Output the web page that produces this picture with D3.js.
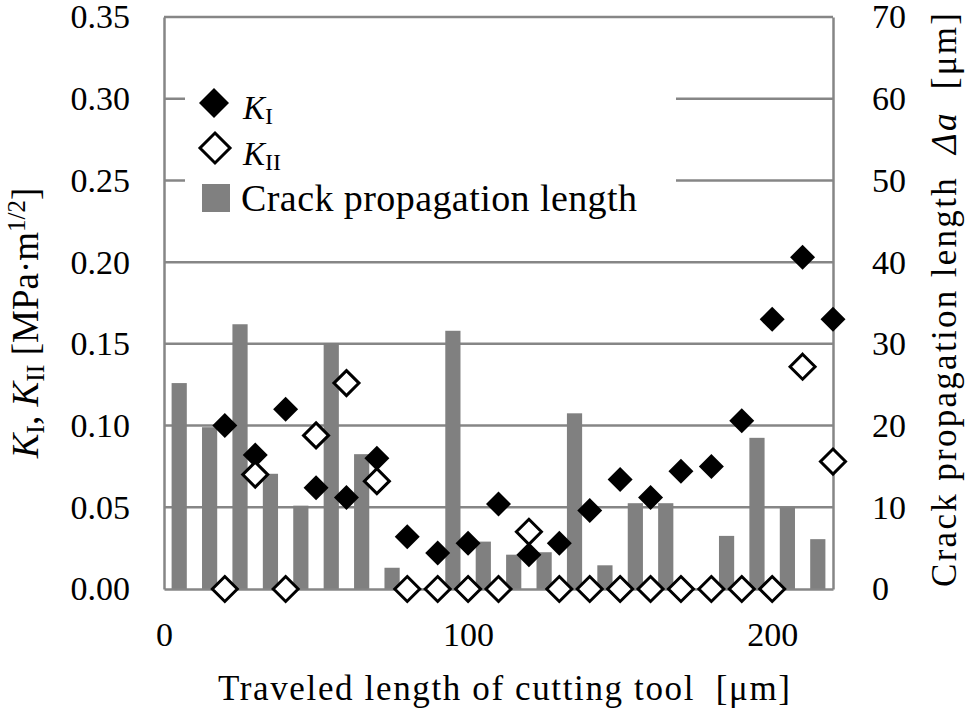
<!DOCTYPE html>
<html>
<head>
<meta charset="utf-8">
<script src="https://cdn.jsdelivr.net/npm/d3@7"></script>
<style>
  body { margin: 0; background: #fff; }
  svg text { font-family: "Liberation Serif", "Times New Roman", serif; fill: #000; white-space: pre; }
</style>
</head>
<body>
<div id="holder"></div>
<script>
// bar categories (centre of each 10 um interval) and crack propagation length [um]
var barX = [5, 15, 25, 35, 45, 55, 65, 75, 85, 95, 105, 115, 125, 135, 145, 155, 165, 175, 185, 195, 205, 215];
var crackLen = [25.2, 19.8, 32.4, 14.1, 10.2, 30.1, 16.5, 2.6, 0, 31.6, 5.8, 4.2, 4.5, 21.5, 2.9, 10.5, 10.5, 0, 6.5, 18.5, 10.0, 6.1];

// stress intensity factors
var kX = [20, 30, 40, 50, 60, 70, 80, 90, 100, 110, 120, 130, 140, 150, 160, 170, 180, 190, 200, 210, 220];
var kI = [0.100, 0.082, 0.110, 0.062, 0.056, 0.080, 0.032, 0.022, 0.028, 0.052, 0.021, 0.028, 0.048, 0.067, 0.056, 0.072, 0.075, 0.103, 0.165, 0.203, 0.165];
var kII = [0, 0.070, 0, 0.094, 0.126, 0.066, 0, 0, 0, 0, 0.035, 0, 0, 0, 0, 0, 0, 0, 0, 0.136, 0.078];

// tick labels
var xTicks = [0, 100, 200];
var leftTicks = [0, 0.05, 0.10, 0.15, 0.20, 0.25, 0.30, 0.35];
var rightTicks = [0, 10, 20, 30, 40, 50, 60, 70];

var W = 969, H = 713;
var margin = {top: 17, right: 136, bottom: 124, left: 164};
var grey = "#868686";
var serif = "Liberation Serif";

var svg = d3.select("#holder")
  .append("svg")
  .attr("width", W)
  .attr("height", H);

var x = d3.scaleLinear().domain([0, 220]).range([margin.left, W - margin.right]);
var yL = d3.scaleLinear().domain([0, 0.35]).range([H - margin.bottom, margin.top]);
var yR = d3.scaleLinear().domain([0, 70]).range([H - margin.bottom, margin.top]);

// gridlines
svg.append("g")
  .selectAll("line")
  .data(leftTicks.slice(1))
  .enter()
  .append("line")
  .attr("x1", x(0)).attr("x2", x(220))
  .attr("y1", d => yL(d)).attr("y2", d => yL(d))
  .attr("stroke", grey)
  .attr("stroke-width", 2.5);

// bars
var halfW = 2.5;
svg.append("g")
  .selectAll("rect")
  .data(barX.map((d, i) => ({x: d, v: crackLen[i]})))
  .enter()
  .append("rect")
  .attr("x", d => x(d.x - halfW))
  .attr("width", d => x(d.x + halfW) - x(d.x - halfW))
  .attr("y", d => yR(d.v))
  .attr("height", d => yR(0) - yR(d.v))
  .attr("fill", "#808080");

// axes
var axL = svg.append("g")
  .attr("transform", "translate(" + x(0) + ",0)")
  .call(d3.axisLeft(yL).tickValues(leftTicks).tickFormat(d3.format(".2f")).tickSize(0).tickPadding(34));
var axR = svg.append("g")
  .attr("transform", "translate(" + x(220) + ",0)")
  .call(d3.axisRight(yR).tickValues(rightTicks).tickSize(0).tickPadding(39));
var axB = svg.append("g")
  .attr("transform", "translate(0," + yL(0) + ")")
  .call(d3.axisBottom(x).tickValues(xTicks).tickSize(0).tickPadding(33));

[axL, axR, axB].forEach(function(a) {
  a.attr("font-family", serif).attr("font-size", 34);
  a.select(".domain").attr("stroke", grey).attr("stroke-width", 2.5);
  a.selectAll("text").attr("fill", "#000");
});

// diamond path
function diamond(r) {
  return "M0," + (-r) + "L" + r + ",0L0," + r + "L" + (-r) + ",0Z";
}

// legend box
var legend = svg.append("g");
legend.append("rect")
  .attr("x", 185).attr("y", 62)
  .attr("width", 491).attr("height", 172)
  .attr("fill", "#fff");

// K_I markers
svg.append("g")
  .selectAll("path")
  .data(kX.map((d, i) => ({x: d, v: kI[i]})))
  .enter()
  .append("path")
  .attr("transform", d => "translate(" + x(d.x) + "," + yL(d.v) + ")")
  .attr("d", diamond(12.5))
  .attr("fill", "#000");

// K_II markers
svg.append("g")
  .selectAll("path")
  .data(kX.map((d, i) => ({x: d, v: kII[i]})))
  .enter()
  .append("path")
  .attr("transform", d => "translate(" + x(d.x) + "," + yL(d.v) + ")")
  .attr("d", diamond(12.5))
  .attr("fill", "#fff")
  .attr("stroke", "#000")
  .attr("stroke-width", 3);

// legend entries
legend.append("path")
  .attr("transform", "translate(214,103)")
  .attr("d", diamond(15))
  .attr("fill", "#000");
legend.append("path")
  .attr("transform", "translate(215,148)")
  .attr("d", diamond(15))
  .attr("fill", "#fff")
  .attr("stroke", "#000")
  .attr("stroke-width", 3);
legend.append("rect")
  .attr("x", 202).attr("y", 184)
  .attr("width", 28).attr("height", 28)
  .attr("fill", "#808080");

var t1 = legend.append("text").attr("x", 243).attr("y", 119).style("font-size", "33px");
t1.append("tspan").style("font-style", "italic").text("K");
t1.append("tspan").attr("dy", 5).style("font-size", "24px").text("I");

var t2 = legend.append("text").attr("x", 243).attr("y", 165).style("font-size", "33px");
t2.append("tspan").style("font-style", "italic").text("K");
t2.append("tspan").attr("dy", 5).style("font-size", "24px").text("II");

legend.append("text")
  .attr("x", 241).attr("y", 211)
  .attr("textLength", 396)
  .attr("lengthAdjust", "spacing")
  .style("font-size", "38px")
  .text("Crack propagation length");

// x axis title
svg.append("text")
  .attr("x", 218).attr("y", 700)
  .attr("textLength", 572)
  .attr("lengthAdjust", "spacing")
  .style("font-size", "35px")
  .text("Traveled length of cutting tool  [\u03bcm]");

// left axis title
var tl = svg.append("text")
  .attr("transform", "translate(38,323) rotate(-90)")
  .attr("text-anchor", "middle")
  .style("font-size", "37px");
tl.append("tspan").style("font-style", "italic").text("K");
tl.append("tspan").attr("dy", 6).style("font-size", "26px").text("I");
tl.append("tspan").attr("dy", -6).text(", ");
tl.append("tspan").style("font-style", "italic").text("K");
tl.append("tspan").attr("dy", 6).style("font-size", "26px").text("II");
tl.append("tspan").attr("dy", -6).text(" [MPa\u00b7m");
tl.append("tspan").attr("dy", -13).style("font-size", "25px").text("1/2");
tl.append("tspan").attr("dy", 13).text("]");

// right axis title
var tr = svg.append("text")
  .attr("transform", "translate(956,587) rotate(-90)")
  .attr("textLength", 574)
  .attr("lengthAdjust", "spacing")
  .style("font-size", "35px");
tr.append("tspan").text("Crack propagation length  ");
tr.append("tspan").style("font-style", "italic").text("\u0394a");
tr.append("tspan").text("  [\u03bcm]");
</script>
</body>
</html>
